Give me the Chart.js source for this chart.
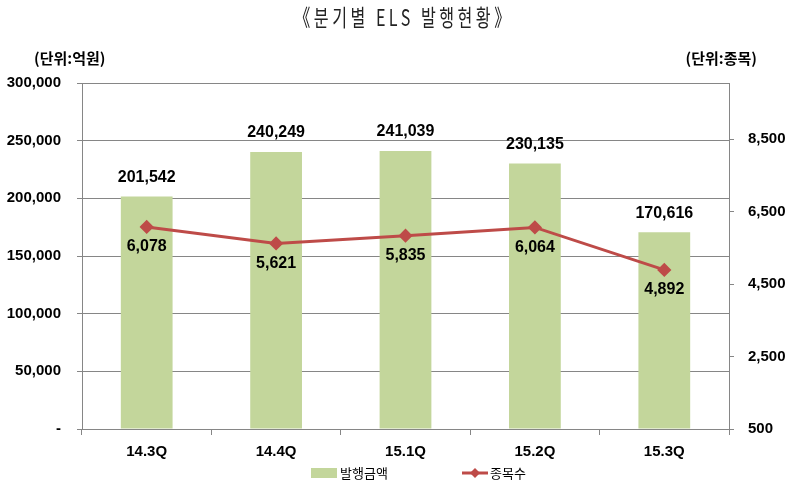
<!DOCTYPE html>
<html><head><meta charset="utf-8">
<script src="https://cdn.jsdelivr.net/npm/chart.js@4"></script>
<style>html,body{margin:0;padding:0;background:#fff}#wrap{width:791px;height:483px}</style>
</head><body><div id="wrap"><canvas id="c" width="791" height="483"></canvas></div>
<script>
const categories = ['14.3Q','14.4Q','15.1Q','15.2Q','15.3Q'];
const issueAmount = [201542,240249,241039,230135,170616];
const issueCount = [6078,5621,5835,6064,4892];
const leftTicks = [0,50000,100000,150000,200000,250000,300000];
const rightTicks = [500,2500,4500,6500,8500];
const titleText = '《분기별 ELS 발행현황》';
const leftUnit = '(단위:억원)';
const rightUnit = '(단위:종목)';
const seriesNames = ['발행금액','종목수'];

const BAR_COLOR = '#c3d69b';
const LINE_COLOR = '#be4b48';
const GRID = '#868686';
const NUM_FONT = 'Liberation Sans, Arial, sans-serif';
const KR_FONT = '"Noto Sans CJK KR", sans-serif';
const fmt = v => v.toLocaleString('en-US');

const overlay = {
  id: 'overlay',
  afterDatasetsDraw(chart) {
    const ctx = chart.ctx;
    ctx.save();
    ctx.fillStyle = '#000';
    ctx.textAlign = 'center';
    ctx.textBaseline = 'middle';
    ctx.font = 'bold 16px ' + NUM_FONT;
    chart.getDatasetMeta(0).data.forEach((el, i) => {
      ctx.fillText(fmt(issueAmount[i]), el.x, el.y - 19);
    });
    chart.getDatasetMeta(1).data.forEach((el, i) => {
      ctx.fillText(fmt(issueCount[i]), el.x, el.y + 20);
    });
    ctx.restore();
  },
  afterDraw(chart) {
    const ctx = chart.ctx;
    ctx.save();
    ctx.fillStyle = '#000';
    ctx.textBaseline = 'middle';
    ctx.textAlign = 'center';
    // title (condensed, spaced)
    ctx.save();
    ctx.translate(404, 17);
    ctx.scale(0.7, 1);
    ctx.font = '23px ' + KR_FONT;
    ctx.letterSpacing = '5px';
    ctx.fillStyle = '#222';
    ctx.fillText(titleText, 0, 0);
    ctx.restore();
    ctx.font = 'bold 15px ' + KR_FONT;
    ctx.textAlign = 'left';
    ctx.fillText(leftUnit, 34, 58);
    ctx.textAlign = 'right';
    ctx.fillText(rightUnit, 757, 58);
    // legend
    ctx.fillStyle = BAR_COLOR;
    ctx.fillRect(311, 468, 26, 10);
    ctx.fillStyle = '#000';
    ctx.textAlign = 'left';
    ctx.font = '13px ' + KR_FONT;
    ctx.fillText(seriesNames[0], 340, 473);
    ctx.strokeStyle = LINE_COLOR;
    ctx.lineWidth = 3;
    ctx.beginPath(); ctx.moveTo(462, 473); ctx.lineTo(488, 473); ctx.stroke();
    ctx.fillStyle = LINE_COLOR;
    ctx.beginPath(); ctx.moveTo(475, 468); ctx.lineTo(480, 473); ctx.lineTo(475, 478); ctx.lineTo(470, 473); ctx.closePath(); ctx.fill();
    ctx.fillStyle = '#000';
    ctx.fillText(seriesNames[1], 490, 473);
    ctx.restore();
  }
};

new Chart(document.getElementById('c'), {
  type: 'bar',
  data: {
    labels: categories,
    datasets: [
      { type: 'bar', label: seriesNames[0], data: issueAmount, yAxisID: 'y', order: 2,
        backgroundColor: BAR_COLOR, barPercentage: 0.4, categoryPercentage: 1 },
      { type: 'line', label: seriesNames[1], data: issueCount, yAxisID: 'y1', order: 1,
        borderColor: LINE_COLOR, backgroundColor: LINE_COLOR, borderWidth: 3,
        pointStyle: 'rectRot', pointRadius: 5, pointBackgroundColor: LINE_COLOR, pointBorderColor: LINE_COLOR,
        tension: 0, fill: false }
    ]
  },
  options: {
    responsive: false,
    animation: false,
    layout: { padding: { top: 83, bottom: 20, left: 0, right: 0 } },
    plugins: { legend: { display: false }, title: { display: false }, tooltip: { enabled: false } },
    scales: {
      x: {
        grid: { drawOnChartArea: false, drawTicks: true, tickLength: 6, color: GRID, offset: true },
        border: { color: GRID },
        ticks: { color: '#000', font: { family: NUM_FONT, size: 15, weight: 'bold' }, padding: 8 },
        afterFit(s) { s.height = 34; }
      },
      y: {
        position: 'left', min: 0, max: 300000,
        afterBuildTicks(s) { s.ticks = leftTicks.map(v => ({ value: v })); },
        grid: { color: GRID, tickLength: 5 },
        border: { color: GRID },
        ticks: { color: '#000', font: { family: NUM_FONT, size: 15, weight: 'bold' }, padding: 16,
          callback: v => v === 0 ? '-' : fmt(v) },
        afterFit(s) { s.width = 82; }
      },
      y1: {
        position: 'right', min: 500, max: 10050,
        afterBuildTicks(s) { s.ticks = rightTicks.map(v => ({ value: v })); },
        grid: { drawOnChartArea: false, color: GRID, tickLength: 5 },
        border: { color: GRID },
        ticks: { color: '#000', font: { family: NUM_FONT, size: 15, weight: 'bold' }, padding: 14,
          callback: v => fmt(v) },
        afterFit(s) { s.width = 62; }
      }
    }
  },
  plugins: [overlay]
});
</script></body></html>
